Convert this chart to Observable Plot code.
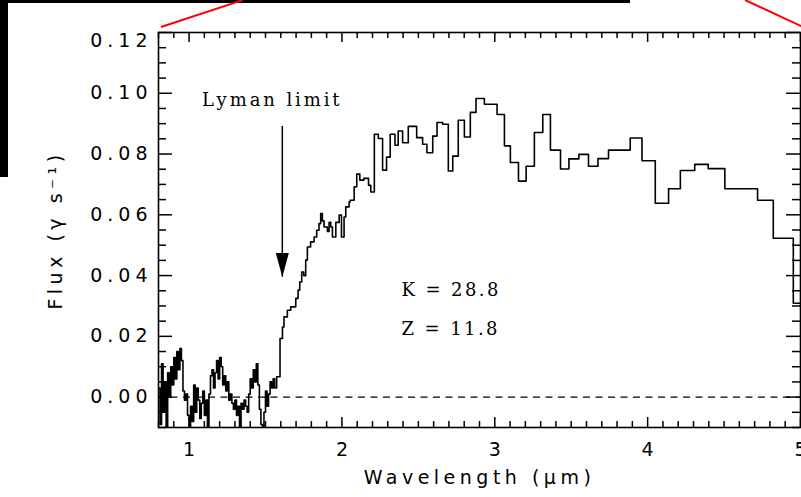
<!DOCTYPE html>
<html><head><meta charset="utf-8">
<script src="https://cdn.jsdelivr.net/npm/d3@7"></script>
<script src="https://cdn.jsdelivr.net/npm/@observablehq/plot@0.6"></script>
<style>
html,body{margin:0;padding:0;background:#fff;}
#wrap{position:relative;width:801px;height:497px;overflow:hidden;background:#fff;}
#chart svg{display:block;}
.deco{position:absolute;background:#000;}
.red{position:absolute;height:2px;background:#f00;transform-origin:0 50%;}
</style></head><body>
<div id="wrap">
  <div id="chart"></div>
  <div class="deco" style="left:0;top:0;width:630px;height:3px"></div>
  <div class="deco" style="left:0;top:0;width:8px;height:177px"></div>
  <div class="red" style="left:161px;top:26px;width:86px;transform:rotate(-18.2deg)"></div>
  <div class="red" style="left:745px;top:-1px;width:62px;transform:rotate(24.9deg)"></div>
</div>
<script>
// Spectrum (step bins: bin start wavelength in µm, flux in photons s^-1)
const wavelength = [
  0.80,0.81,0.82,0.83,0.84,0.85,0.86,0.87,0.88,0.89,0.90,0.91,0.92,0.93,0.94,0.95,0.96,0.97,0.98,0.99,
  1.00,1.01,1.02,1.03,1.04,1.05,1.06,1.07,1.08,1.09,1.10,1.11,1.12,1.13,1.14,1.15,1.16,1.17,1.18,1.19,
  1.20,1.21,1.22,1.23,1.24,1.25,1.26,1.27,1.28,1.29,1.30,1.31,1.32,1.33,1.34,1.35,1.36,1.37,1.38,1.39,
  1.40,1.41,1.42,1.43,1.44,1.45,1.46,1.47,1.48,1.49,1.50,1.51,1.52,1.53,1.54,1.55,1.56,
  1.573,1.595,1.611,1.621,1.643,1.665,1.698,1.713,1.724,1.737,1.750,1.763,1.774,1.795,1.818,1.835,1.850,
  1.861,1.872,1.883,1.905,1.916,1.927,1.938,1.960,1.982,1.997,2.014,2.025,2.047,2.054,2.080,2.097,2.117,
  2.143,2.174,2.189,2.212,2.238,2.266,2.292,2.316,2.347,2.368,2.397,2.434,2.489,2.528,2.556,2.594,2.622,
  2.659,2.696,2.725,2.761,2.801,2.840,2.877,2.932,3.015,3.063,3.102,3.155,3.205,3.259,3.314,3.364,3.430,
  3.485,3.550,3.613,3.675,3.744,3.886,3.963,4.050,4.137,4.214,4.308,4.396,4.505,4.719,4.822,4.953,5.000
];
const flux = [
  0.003,-0.009,0.011,-0.005,0.005,-0.012,0.008,0.000,0.010,0.004,0.013,0.006,0.015,0.009,0.016,0.012,0.002,-0.001,0.001,-0.006,
  -0.011,-0.003,-0.008,0.004,-0.005,0.003,-0.001,-0.007,-0.002,0.002,-0.006,-0.001,-0.011,0.001,0.007,0.009,0.003,0.008,0.012,0.006,
  0.013,0.010,0.004,0.007,0.002,0.005,-0.001,0.001,-0.002,-0.004,-0.001,-0.006,-0.003,-0.011,-0.002,-0.004,-0.001,-0.003,-0.005,0.001,
  0.006,0.003,0.009,0.005,0.011,0.004,-0.004,-0.009,-0.012,-0.005,0.002,-0.003,0.001,0.005,0.003,0.006,0.003,
  0.0067,0.0193,0.0231,0.0264,0.0286,0.0297,0.0325,0.0352,0.0379,0.0412,0.0400,0.0451,0.0494,0.0511,0.0527,0.0549,0.0571,
  0.0604,0.0580,0.0560,0.0545,0.0575,0.0560,0.0527,0.0575,0.0599,0.0527,0.0593,0.0626,0.0642,0.0648,0.0692,0.0734,0.0714,
  0.0720,0.0697,0.0675,0.0865,0.0851,0.0747,0.0790,0.0865,0.0829,0.0876,0.0837,0.0891,0.0854,0.0832,0.0804,0.0859,0.0904,
  0.0898,0.0744,0.0793,0.0911,0.0856,0.0937,0.0983,0.0964,0.0930,0.0827,0.0772,0.0711,0.0760,0.0871,0.0930,0.0813,0.0751,
  0.0784,0.0799,0.0760,0.0785,0.0813,0.0853,0.0778,0.0638,0.0686,0.0746,0.0766,0.0752,0.0686,0.0648,0.0523,0.0309,0.0309
];
const xDomain = [0.8, 5.0];
const yDomain = [-0.01, 0.12];
const xTickValues = [1, 2, 3, 4, 5];
const yTickValues = [0.00, 0.02, 0.04, 0.06, 0.08, 0.10, 0.12];
const xTitle = "Wavelength (\u03bcm)";
const yTitle = "Flux (\u03b3 s\u207b\u00b9)";
const lymanArrow = [{x: 1.61, top: 0.0891, tip: 0.0395}];
const lymanLabel = [{x: 1.085, y: 0.0977, text: "Lyman limit"}];
const paramLabels = [
  {x: 2.39, y: 0.0352, text: "K = 28.8"},
  {x: 2.39, y: 0.0224, text: "Z = 11.8"}
];

const W = 801, H = 497, mL = 158, mR = 1, mT = 32, mB = 70;
const fw = W - mL - mR, fh = H - mT - mB;
const xMinor = d3.range(8, 51).filter(d => d % 10 !== 0).map(d => d / 10);
const yMinor = d3.range(-2, 25).filter(d => d % 4 !== 0).map(d => d * 0.005);
const yTop = yTickValues[yTickValues.length - 1];
const yLower = yTickValues.slice(0, -1);

const data = wavelength.map((w, i) => ({w, f: flux[i]}));
const arrowHead = {draw(ctx) { ctx.moveTo(0, 0); ctx.lineTo(-6.5, -24); ctx.lineTo(6.5, -24); ctx.closePath(); }};

const font = "'DejaVu Sans', sans-serif";
const serif = "'DejaVu Serif', serif";
const tk = {stroke: "black", strokeWidth: 1.5};
const fmt = d3.format(".2f");

const chart = Plot.plot({
  width: W, height: H,
  marginLeft: mL, marginRight: mR, marginTop: mT, marginBottom: mB,
  x: {domain: xDomain, axis: null},
  y: {domain: yDomain, axis: null},
  style: {fontFamily: font, background: "white", overflow: "visible", color: "black"},
  marks: [
    Plot.tickX(xMinor, {x: d => d, insetTop: fh - 6, ...tk}),
    Plot.tickX(xMinor, {x: d => d, insetBottom: fh - 6, ...tk}),
    Plot.tickX(xTickValues, {x: d => d, insetTop: fh - 10, ...tk}),
    Plot.tickX(xTickValues, {x: d => d, insetBottom: fh - 10, ...tk}),
    Plot.tickY(yMinor, {y: d => d, insetRight: fw - 8, ...tk}),
    Plot.tickY(yMinor, {y: d => d, insetLeft: fw - 8, ...tk}),
    Plot.tickY(yTickValues, {y: d => d, insetRight: fw - 14, ...tk}),
    Plot.tickY(yTickValues, {y: d => d, insetLeft: fw - 14, ...tk}),
    Plot.ruleY([0], {stroke: "black", strokeWidth: 1.4, strokeDasharray: "7,5.5"}),
    Plot.line(data, {x: "w", y: "f", curve: "step-after", stroke: "black", strokeWidth: 1.6, clip: true}),
    Plot.ruleX(lymanArrow, {x: "x", y1: "top", y2: "tip", stroke: "black", strokeWidth: 1.5}),
    Plot.dot(lymanArrow, {x: "x", y: "tip", symbol: arrowHead, r: 5, fill: "black", stroke: "none"}),
    Plot.text(lymanLabel, {x: "x", y: "y", text: "text", textAnchor: "start", fontSize: 18, fontFamily: serif, fill: "black"}),
    Plot.text(paramLabels, {x: "x", y: "y", text: "text", textAnchor: "start", fontSize: 18, fontFamily: serif, fill: "black"}),
    Plot.text(yLower, {y: d => d, text: d => fmt(d), frameAnchor: "left", dx: -6, textAnchor: "end", fontSize: 19, fill: "black"}),
    Plot.text([yTop], {y: d => d, text: d => fmt(d), frameAnchor: "left", dx: -6, dy: 1, textAnchor: "end", lineAnchor: "top", fontSize: 19, fill: "black"}),
    Plot.text(xTickValues, {x: d => d, text: d => String(d), frameAnchor: "bottom", dy: 28, fontSize: 19, fill: "black"}),
    Plot.text([xTitle], {text: d => d, frameAnchor: "bottom", dy: 56, textAnchor: "middle", fontSize: 19, fill: "black"}),
    Plot.text([yTitle], {text: d => d, frameAnchor: "left", dx: -103, rotate: -90, textAnchor: "middle", fontSize: 19, fill: "black"}),
    Plot.frame({stroke: "black", strokeWidth: 1.6})
  ]
});

// letter spacing to mimic the wide plotting font of the original
const spacing = new Map([
  ["Lyman limit", 2.9], [paramLabels[0].text, 2.4], [paramLabels[1].text, 2.4],
  [xTitle, 4.5], [yTitle, 4.5]
]);
yTickValues.forEach(v => spacing.set(fmt(v), 5));
d3.select(chart).selectAll("text").each(function() {
  const s = spacing.get(this.textContent);
  if (s) this.style.letterSpacing = s + "px";
});
document.getElementById("chart").appendChild(chart);
</script>
</body></html>
